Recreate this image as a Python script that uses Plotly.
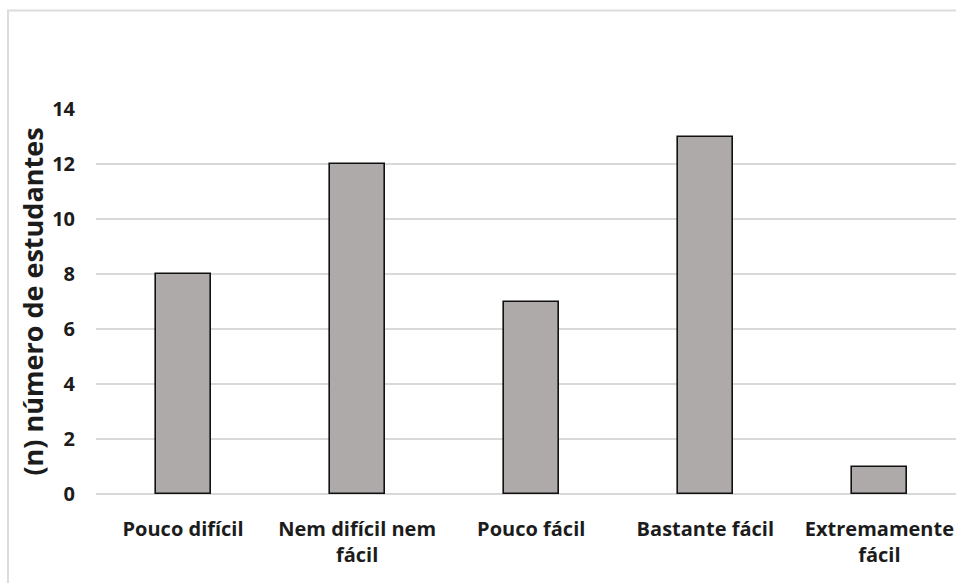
import plotly.graph_objects as go

# Survey answers: how easy the activity was, and how many students chose each option
categorias = ["Pouco difícil", "Nem difícil nem<br>fácil", "Pouco fácil",
              "Bastante fácil", "Extremamente<br>fácil"]
estudantes = [8, 12, 7, 13, 1]
y_ticks = [0, 2, 4, 6, 8, 10, 12, 14]

W, H = 956, 583
ml, mr, mt, mb = 96, 0, 109, 89

fig = go.Figure(
    go.Bar(
        x=list(range(len(categorias))),
        y=estudantes,
        width=0.316,
        marker=dict(color="#aeaaaa", line=dict(color="#111111", width=1.6)),
        hoverinfo="x+y",
    )
)

font_family = "'Open Sans', Lato, sans-serif"
txt_color = "#1c1c1c"

fig.update_layout(
    width=W, height=H,
    margin=dict(l=ml, r=mr, t=mt, b=mb, pad=0),
    paper_bgcolor="white",
    plot_bgcolor="white",
    showlegend=False,
    bargap=0,
    font=dict(family=font_family, color=txt_color),
)

fig.update_xaxes(
    range=[-0.5, 4.44],
    tickmode="array",
    tickvals=list(range(len(categorias))),
    ticktext=[f"<b>{c}</b>" for c in categorias],
    tickfont=dict(size=20, color=txt_color, family=font_family),
    showgrid=False,
    zeroline=False,
    showline=False,
    ticks="",
    ticklabelstandoff=21,
    fixedrange=True,
)

fig.update_yaxes(
    range=[0, 14],
    tickmode="array",
    tickvals=y_ticks,
    ticktext=[f"<b>{v}</b>" for v in y_ticks],
    tickfont=dict(size=20, color=txt_color, family=font_family),
    showgrid=True,
    gridcolor="#d9d9d9",
    gridwidth=1.5,
    zeroline=True,
    zerolinecolor="#d9d9d9",
    zerolinewidth=1.5,
    showline=False,
    ticks="",
    ticklabelstandoff=20,
    title=dict(text="<b>(n) número de estudantes</b>",
               font=dict(size=27, color=txt_color, family=font_family),
               standoff=0),
    automargin=False,
    fixedrange=True,
)

# light frame around the chart area (top and left edges)
pw, ph = W - ml - mr, H - mt - mb
x_left = (8 - ml) / pw
y_top = (H - mb - 10.5) / ph
fig.add_shape(
    type="path",
    xref="paper", yref="paper",
    path=f"M {x_left} -0.3 L {x_left} {y_top} L 1.05 {y_top}",
    line=dict(color="#dcdcdc", width=2),
    layer="below",
)

fig.write_html("out.html")
